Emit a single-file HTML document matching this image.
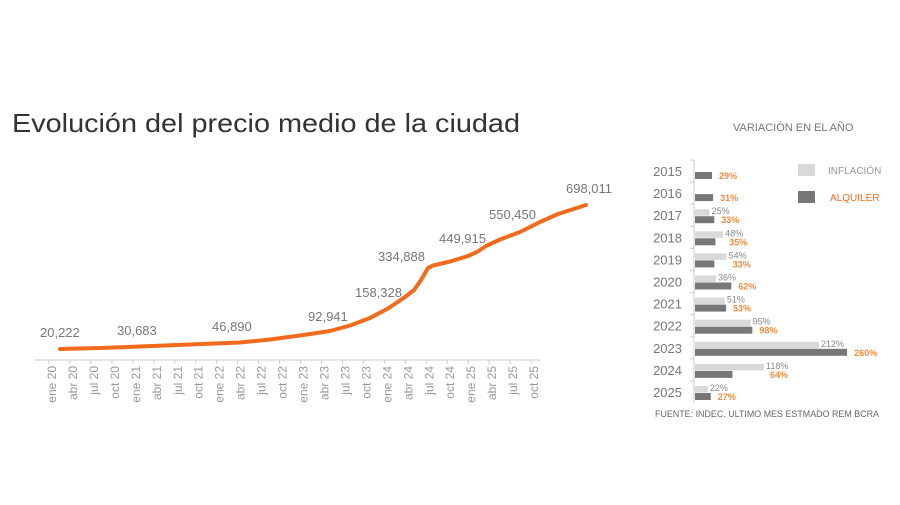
<!DOCTYPE html>
<html><head><meta charset="utf-8"><style>
html,body{margin:0;padding:0;background:#fff;width:900px;height:505px;overflow:hidden}
text{font-family:"Liberation Sans",sans-serif}
</style></head><body>
<svg width="900" height="505" viewBox="0 0 900 505" xmlns="http://www.w3.org/2000/svg">
<text x="12" y="132" font-size="26" fill="#333" textLength="508" lengthAdjust="spacingAndGlyphs">Evolución del precio medio de la ciudad</text>
<line x1="34" y1="360" x2="540" y2="360" stroke="#ccc" stroke-width="1"/>
<g stroke="#ccc" stroke-width="1" id="ticks"></g>
<g id="xl" font-size="12" fill="#999"></g>
<path d="M60,349 L100,348 L140,346.5 L190,344.5 L240,342.5 L270,339.5 L300,335.5 L330,331 L350,325.5 L370,318 L388,308.5 L405,297 L414,290 L421,280 L428,268 L433,265.5 L450,261.5 L468,256 L477,252 L486,246 L500,239.5 L520,232 L540,222 L558,214 L586,205" fill="none" stroke="#f26a1b" stroke-width="4" stroke-linejoin="round" stroke-linecap="round"/>
<g font-size="13" fill="#777">
<text x="40" y="337">20,222</text>
<text x="117" y="335">30,683</text>
<text x="212" y="331">46,890</text>
<text x="308" y="321">92,941</text>
<text x="355" y="297">158,328</text>
<text x="378" y="261">334,888</text>
<text x="439" y="243">449,915</text>
<text x="489" y="219">550,450</text>
<text x="566" y="193">698,011</text>
</g>
<text x="733" y="131" font-size="11" fill="#777">VARIACIÓN EN EL AÑO</text>
<rect x="798" y="164" width="17" height="12" fill="#d9d9d9"/>
<text x="828" y="174" font-size="10" fill="#999">INFLACIÓN</text>
<rect x="798" y="191" width="17" height="12" fill="#777"/>
<text x="830" y="201" font-size="10" fill="#f26a1b">ALQUILER</text>
<line x1="694" y1="160" x2="694" y2="403" stroke="#ccc"/>
<g id="bars"></g>
<text x="655" y="417" font-size="9.5" fill="#666" textLength="224" lengthAdjust="spacingAndGlyphs">FUENTE: INDEC. ULTIMO MES ESTMADO REM BCRA</text>
</svg>
<script>
var ns="http://www.w3.org/2000/svg";
function el(p,t,a,txt){var e=document.createElementNS(ns,t);for(var k in a)e.setAttribute(k,a[k]);if(txt!=null)e.textContent=txt;document.getElementById(p).appendChild(e);return e;}
var m=["ene","abr","jul","oct"];
for(var i=0;i<24;i++){var x=52+i*20.96;
el("ticks","line",{x1:x-3,y1:360,x2:x-3,y2:364});
var lab=m[i%4]+" "+(20+Math.floor(i/4));
el("xl","text",{x:0,y:0,transform:"translate("+(x+4)+",366) rotate(-90)","text-anchor":"end"},lab);}
var yrs=[2015,2016,2017,2018,2019,2020,2021,2022,2023,2024,2025];
var inf=[null,null,25,48,54,36,51,95,212,118,22];
var alq=[29,31,33,35,33,62,53,98,260,64,27];
var s=0.585;
for(var i=0;i<11;i++){var c=171+i*22.1;
el("bars","text",{x:682,y:c+5,"font-size":"13","fill":"#777","text-anchor":"end"},yrs[i]);
el("bars","line",{x1:690,y1:c-11,x2:694,y2:c-11,stroke:"#ccc"});
if(inf[i]!=null){var w=inf[i]*s;el("bars","rect",{x:695,y:c-6,width:w,height:6.5,fill:"#d9d9d9"});
el("bars","text",{x:695+w+2,y:c-1,"font-size":"9","fill":"#888"},inf[i]+"%");}
var w2=alq[i]*s;el("bars","rect",{x:695,y:c+1,width:w2,height:7,fill:"#777"});
el("bars","text",{x:695+w2+(inf[i]!=null&&inf[i]>alq[i]?((inf[i]-alq[i])*s+6):7),y:c+8,"font-size":"9","font-weight":"bold","fill":"#f08a3c"},alq[i]+"%");}
</script>
</body></html>
